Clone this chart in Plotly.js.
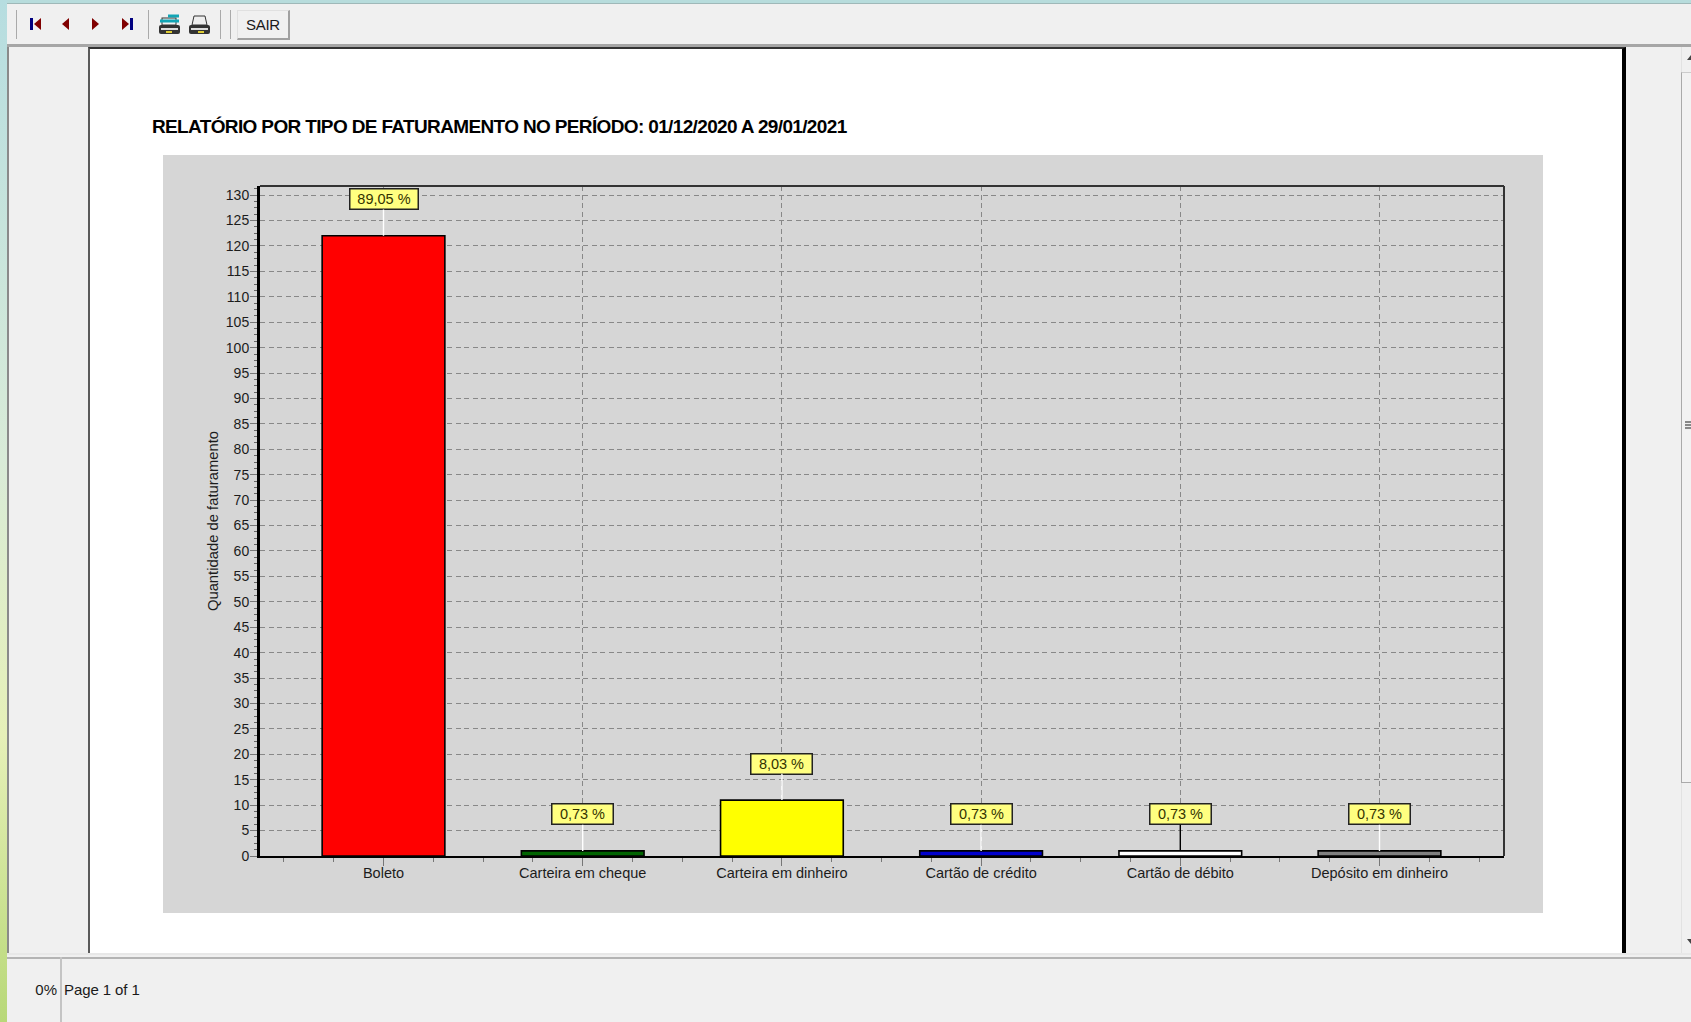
<!DOCTYPE html>
<html lang="pt">
<head>
<meta charset="utf-8">
<title>Relatório por tipo de faturamento</title>
<script src="https://cdn.plot.ly/plotly-3.0.1.min.js"></script>
<style>
html,body{margin:0;padding:0;width:1691px;height:1022px;overflow:hidden;background:#f0f0f0;font-family:"Liberation Sans",Arial,sans-serif;color:#1a1a1a}
.c{position:absolute;box-sizing:border-box}
#chart{position:absolute;left:0;top:0;width:1691px;height:1022px}
#chart .gtitle{letter-spacing:-0.64px}
</style>
</head>
<body>
<div class="c" style="left:0;top:0;width:1691px;height:3px;background:#b7dcdc"></div>
<div class="c" style="left:0;top:3px;width:1691px;height:1px;background:#9fb8b8"></div>
<div class="c" style="left:0;top:0;width:7px;height:1022px;background:linear-gradient(#b6dde0 0%,#d9ebd8 45%,#e6f0b8 72%,#b8d878 100%)"></div>
<div class="c" style="left:7px;top:44px;width:1684px;height:3px;background:#a6a6a6"></div>
<div class="c" style="left:16px;top:10px;width:1px;height:29px;background:#aaa"></div>
<div class="c" style="left:148px;top:10px;width:1px;height:29px;background:#aaa"></div>
<div class="c" style="left:220px;top:10px;width:1px;height:29px;background:#aaa"></div>
<div class="c" style="left:230px;top:10px;width:1px;height:29px;background:#aaa"></div>
<svg class="c" style="left:0;top:0" width="240" height="46">
  <rect x="30" y="18" width="3" height="12" fill="#000080"/><path d="M41 18v12l-7-6z" fill="#800000"/>
  <path d="M69 18v12l-7-6z" fill="#800000"/>
  <path d="M92 18v12l7-6z" fill="#800000"/>
  <path d="M122 18v12l7-6z" fill="#800000"/><rect x="130" y="18" width="3" height="12" fill="#000080"/>
  <g>
    <rect x="159" y="25" width="21" height="9" rx="2" fill="#333"/><rect x="161" y="28" width="17" height="2" fill="#ddd"/><rect x="166" y="31" width="6" height="2" fill="#dc3"/>
    <rect x="162" y="18" width="14" height="7" fill="#f2f2f2" stroke="#333"/>
    <path d="M160 21h19M168 16h11" stroke="#12a5b5" stroke-width="3"/>
  </g>
  <g>
    <rect x="189" y="25" width="21" height="9" rx="2" fill="#333"/><rect x="191" y="28" width="17" height="2" fill="#ddd"/><rect x="198" y="31" width="6" height="2" fill="#dc3"/>
    <path d="M194 16h11l2 9h-15z" fill="#eee" stroke="#333"/>
  </g>
</svg>
<div class="c" style="left:237px;top:10px;width:53px;height:30px;background:#f0f0f0;border:1px solid #e0e0e0;border-right:2px solid #a0a0a0;border-bottom:2px solid #a0a0a0;font-size:15px;letter-spacing:-0.3px;line-height:27px;text-align:center">SAIR</div>

<div class="c" style="left:7px;top:47px;width:2px;height:906px;background:#8a8a8a"></div>
<div class="c" style="left:88px;top:47px;width:1538px;height:906px;background:#fff;border-left:2px solid #5a5a5a;border-top:2px solid #333;border-right:4px solid #000"></div>
<div class="c" style="left:163px;top:155px;width:1380px;height:758px;background:#d6d6d6"></div>

<div class="c" style="left:1681px;top:47px;width:10px;height:906px;background:#f0f0f0;border-left:1px solid #e2e2e2"></div>
<div class="c" style="left:1681px;top:72px;width:10px;height:711px;background:#f2f2f2;border-left:1px solid #aaa;border-top:1px solid #ccc;border-bottom:1px solid #aaa"></div>
<div class="c" style="left:1685px;top:421px;width:6px;height:9px;background:repeating-linear-gradient(#888 0 2px,#eee 2px 3px)"></div>
<svg class="c" style="left:1681px;top:50px" width="10" height="900"><path d="M6 10l4-5v5zM6 889l4 5v-5z" fill="#444"/></svg>

<div class="c" style="left:7px;top:953px;width:1684px;height:69px;background:#f0f0f0;border-top:2px solid #e8e8e8"></div>
<div class="c" style="left:7px;top:957px;width:1684px;height:2px;background:#b4b4b4"></div>
<div class="c" style="left:60px;top:957px;width:2px;height:65px;background:#c4c4c4"></div>
<div class="c" style="left:20px;top:980px;width:37px;text-align:right;font-size:15px;line-height:20px">0%</div>
<div class="c" style="left:64px;top:980px;font-size:15px;letter-spacing:-0.1px;line-height:20px;white-space:nowrap">Page 1 of 1</div>

<div id="chart"></div>
<script>
var chartTitle = 'RELATÓRIO POR TIPO DE FATURAMENTO NO PERÍODO: 01/12/2020 A 29/01/2021';
var yAxisTitle = 'Quantidade de faturamento';
var categories = ['Boleto', 'Carteira em cheque', 'Carteira em dinheiro', 'Cartão de crédito', 'Cartão de débito', 'Depósito em dinheiro'];
var quantities = [122, 1, 11, 1, 1, 1];
var percentLabels = ['89,05 %', '0,73 %', '8,03 %', '0,73 %', '0,73 %', '0,73 %'];
var barColors = ['#ff0000', '#006400', '#ffff00', '#0000cd', '#ffffff', '#808080'];
var leaderColors = ['#ffffff', '#ffffff', '#ffffff', '#ffffff', '#000000', '#ffffff'];

var W = 1691, H = 1022;
var L = 260, R = 1504.5, T = 185.5, B = 855.7;
var textCol = '#1c1c1c';
var gridCol = '#888888';
var fam = 'Liberation Sans, Arial, sans-serif';
var positions = categories.map(function (c, i) { return i; });

var annotations = categories.map(function (c, i) {
  return {
    x: i, y: quantities[i], xref: 'x', yref: 'y',
    text: percentLabels[i],
    showarrow: true, arrowhead: 0, arrowwidth: 1.4, arrowcolor: leaderColors[i],
    ax: 0, ay: -36.5, standoff: 0,
    bgcolor: '#ffff80', bordercolor: '#222222', borderwidth: 1.5, borderpad: 0,
    width: percentLabels[i].length > 6 ? 67 : 60, height: 19,
    font: {family: fam, size: 14.5, color: '#333300'}
  };
});

var data = [{
  type: 'bar',
  x: positions,
  y: quantities,
  customdata: categories,
  width: 0.616,
  marker: {color: barColors, line: {color: '#000000', width: 1.6}},
  hovertemplate: '%{customdata}: %{y}<extra></extra>'
}];

var layout = {
  width: W, height: H,
  autosize: false,
  paper_bgcolor: 'rgba(0,0,0,0)',
  plot_bgcolor: 'rgba(0,0,0,0)',
  margin: {l: L, r: W - R, t: T, b: H - B, pad: 0},
  showlegend: false,
  title: {
    text: chartTitle, xref: 'container', yref: 'container',
    x: 152 / W, xanchor: 'left', y: 1 - 126 / H, yanchor: 'middle',
    font: {family: fam, size: 19, color: '#000000', weight: 700}
  },
  xaxis: {
    type: 'linear',
    tickmode: 'array', tickvals: positions, ticktext: categories,
    range: [-0.62, 5.625],
    showgrid: true, gridcolor: gridCol, griddash: '5px,3.5px', gridwidth: 1.3,
    zeroline: false,
    showline: true, linecolor: '#000000', linewidth: 1.5,
    ticks: 'outside', ticklen: 8, tickcolor: '#777777', tickwidth: 1,
    ticklabelstandoff: -5,
    tickfont: {family: fam, size: 14.5, color: textCol},
    minor: {dtick: 0.25, tick0: 0, ticks: 'outside', ticklen: 4, tickcolor: '#777777', tickwidth: 1, showgrid: false},
    fixedrange: true
  },
  yaxis: {
    range: [0, 131.8],
    tick0: 0, dtick: 5,
    showgrid: true, gridcolor: gridCol, griddash: '5px,3.5px', gridwidth: 1.3,
    zeroline: false,
    showline: true, linecolor: '#000000', linewidth: 3,
    ticks: 'outside', ticklen: 7, tickcolor: '#777777', tickwidth: 1,
    ticklabelstandoff: -2,
    tickfont: {family: fam, size: 14, color: textCol},
    minor: {dtick: 1.25, ticks: 'outside', ticklen: 3, tickcolor: '#666666', tickwidth: 1, showgrid: false},
    title: {text: yAxisTitle, standoff: 4, font: {family: fam, size: 14.8, color: textCol}},
    fixedrange: true
  },
  shapes: [
    {type: 'line', xref: 'paper', yref: 'paper', x0: 0, x1: 1, y0: 1, y1: 1, line: {color: '#333333', width: 2}},
    {type: 'line', xref: 'paper', yref: 'paper', x0: 1, x1: 1, y0: 0, y1: 1, line: {color: '#333333', width: 2}},
    {type: 'line', xref: 'paper', yref: 'paper', x0: 0, x1: 1, y0: -0.002, y1: -0.002, layer: 'above', line: {color: '#000000', width: 1.4, dash: '4px,2px'}}
  ],
  annotations: annotations
};

Plotly.newPlot('chart', data, layout, {displayModeBar: false, responsive: false});
</script>
</body>
</html>
